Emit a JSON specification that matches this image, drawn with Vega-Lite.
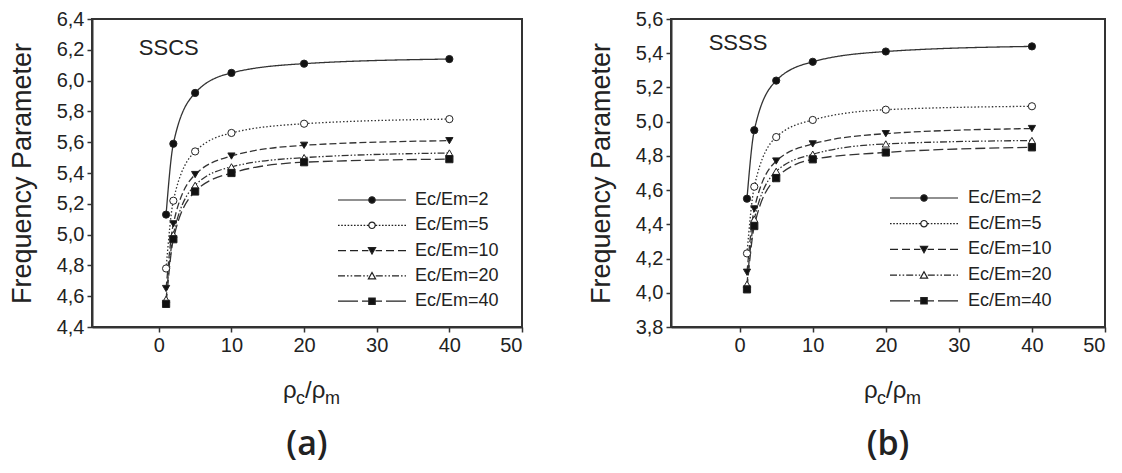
{
  "$schema": "https://vega.github.io/schema/vega-lite/v6.json",
  "background": "white",
  "padding": {"left": 7, "top": 8, "right": 0, "bottom": 12},
  "spacing": 62,
  "config": {
    "font": "Liberation Sans",
    "view": {"stroke": "#333", "strokeWidth": 2},
    "axis": {
      "grid": false,
      "domainColor": "#333",
      "domainWidth": 2,
      "tickColor": "#333",
      "tickWidth": 1.5,
      "tickSize": 5,
      "tickCount": 20,
      "labelFont": "Liberation Sans",
      "labelFontSize": 20,
      "labelColor": "#222",
      "labelPadding": 3,
      "labelOverlap": false,
      "titleFont": "Liberation Sans",
      "titleFontSize": 27,
      "titleFontWeight": "normal",
      "titleColor": "#222"
    }
  },
  "datasets": {
    "sscs": [
      {"ratio": 1, "series": "Ec/Em=2", "freq": 5.13},
      {"ratio": 2, "series": "Ec/Em=2", "freq": 5.59},
      {"ratio": 5, "series": "Ec/Em=2", "freq": 5.92},
      {"ratio": 10, "series": "Ec/Em=2", "freq": 6.05},
      {"ratio": 20, "series": "Ec/Em=2", "freq": 6.11},
      {"ratio": 40, "series": "Ec/Em=2", "freq": 6.14},
      {"ratio": 1, "series": "Ec/Em=5", "freq": 4.78},
      {"ratio": 2, "series": "Ec/Em=5", "freq": 5.22},
      {"ratio": 5, "series": "Ec/Em=5", "freq": 5.54},
      {"ratio": 10, "series": "Ec/Em=5", "freq": 5.66},
      {"ratio": 20, "series": "Ec/Em=5", "freq": 5.72},
      {"ratio": 40, "series": "Ec/Em=5", "freq": 5.75},
      {"ratio": 1, "series": "Ec/Em=10", "freq": 4.65},
      {"ratio": 2, "series": "Ec/Em=10", "freq": 5.07},
      {"ratio": 5, "series": "Ec/Em=10", "freq": 5.39},
      {"ratio": 10, "series": "Ec/Em=10", "freq": 5.51},
      {"ratio": 20, "series": "Ec/Em=10", "freq": 5.58},
      {"ratio": 40, "series": "Ec/Em=10", "freq": 5.61},
      {"ratio": 1, "series": "Ec/Em=20", "freq": 4.58},
      {"ratio": 2, "series": "Ec/Em=20", "freq": 5.0},
      {"ratio": 5, "series": "Ec/Em=20", "freq": 5.32},
      {"ratio": 10, "series": "Ec/Em=20", "freq": 5.44},
      {"ratio": 20, "series": "Ec/Em=20", "freq": 5.5},
      {"ratio": 40, "series": "Ec/Em=20", "freq": 5.53},
      {"ratio": 1, "series": "Ec/Em=40", "freq": 4.55},
      {"ratio": 2, "series": "Ec/Em=40", "freq": 4.97},
      {"ratio": 5, "series": "Ec/Em=40", "freq": 5.28},
      {"ratio": 10, "series": "Ec/Em=40", "freq": 5.4},
      {"ratio": 20, "series": "Ec/Em=40", "freq": 5.47},
      {"ratio": 40, "series": "Ec/Em=40", "freq": 5.49}
    ],
    "ssss": [
      {"ratio": 1, "series": "Ec/Em=2", "freq": 4.55},
      {"ratio": 2, "series": "Ec/Em=2", "freq": 4.95},
      {"ratio": 5, "series": "Ec/Em=2", "freq": 5.24},
      {"ratio": 10, "series": "Ec/Em=2", "freq": 5.35},
      {"ratio": 20, "series": "Ec/Em=2", "freq": 5.41},
      {"ratio": 40, "series": "Ec/Em=2", "freq": 5.44},
      {"ratio": 1, "series": "Ec/Em=5", "freq": 4.23},
      {"ratio": 2, "series": "Ec/Em=5", "freq": 4.62},
      {"ratio": 5, "series": "Ec/Em=5", "freq": 4.91},
      {"ratio": 10, "series": "Ec/Em=5", "freq": 5.01},
      {"ratio": 20, "series": "Ec/Em=5", "freq": 5.07},
      {"ratio": 40, "series": "Ec/Em=5", "freq": 5.09},
      {"ratio": 1, "series": "Ec/Em=10", "freq": 4.12},
      {"ratio": 2, "series": "Ec/Em=10", "freq": 4.49},
      {"ratio": 5, "series": "Ec/Em=10", "freq": 4.77},
      {"ratio": 10, "series": "Ec/Em=10", "freq": 4.87},
      {"ratio": 20, "series": "Ec/Em=10", "freq": 4.93},
      {"ratio": 40, "series": "Ec/Em=10", "freq": 4.96},
      {"ratio": 1, "series": "Ec/Em=20", "freq": 4.05},
      {"ratio": 2, "series": "Ec/Em=20", "freq": 4.43},
      {"ratio": 5, "series": "Ec/Em=20", "freq": 4.71},
      {"ratio": 10, "series": "Ec/Em=20", "freq": 4.81},
      {"ratio": 20, "series": "Ec/Em=20", "freq": 4.87},
      {"ratio": 40, "series": "Ec/Em=20", "freq": 4.89},
      {"ratio": 1, "series": "Ec/Em=40", "freq": 4.02},
      {"ratio": 2, "series": "Ec/Em=40", "freq": 4.39},
      {"ratio": 5, "series": "Ec/Em=40", "freq": 4.67},
      {"ratio": 10, "series": "Ec/Em=40", "freq": 4.78},
      {"ratio": 20, "series": "Ec/Em=40", "freq": 4.82},
      {"ratio": 40, "series": "Ec/Em=40", "freq": 4.85}
    ]
  },
  "resolve": {
    "scale": {"x": "independent", "y": "independent", "shape": "independent"},
    "legend": {"shape": "independent"}
  },
  "hconcat": [
    {
      "width": 430,
      "height": 308,
      "title": {"text": "(a)", "orient": "bottom", "frame": "group", "anchor": "middle", "offset": 20, "font": "Open Sans", "fontSize": 34, "fontWeight": 600, "color": "#222"},
      "data": {"name": "sscs"},
      "resolve": {"scale": {"shape": "independent"}, "legend": {"shape": "independent"}},
      "layer": [
        {
          "mark": {"type": "line", "interpolate": "monotone", "stroke": "#333", "strokeWidth": 1.3},
          "encoding": {
            "x": {"field": "ratio", "type": "quantitative", "scale": {"domain": [-9.2, 50], "nice": false, "zero": false}, "axis": {"values": [0, 10, 20, 30, 40, 50], "title": null, "labelOverlap": false}},
            "y": {"field": "freq", "type": "quantitative", "scale": {"domain": [4.4, 6.4], "nice": false, "zero": false}, "axis": {"values": [4.4, 4.6, 4.8, 5.0, 5.2, 5.4, 5.6, 5.8, 6.0, 6.2, 6.4], "tickCount": 20, "labelOverlap": false, "labelExpr": "replace(format(datum.value, '.1f'), '.', ',')", "title": "Frequency Parameter", "titlePadding": 20}},
            "detail": {"field": "series", "type": "nominal"},
            "strokeDash": {"condition": [
              {"test": "datum.series === 'Ec/Em=5'", "value": [1.5, 2]},
              {"test": "datum.series === 'Ec/Em=10'", "value": [7, 3]},
              {"test": "datum.series === 'Ec/Em=20'", "value": [7, 2, 1.5, 2, 1.5, 2]},
              {"test": "datum.series === 'Ec/Em=40'", "value": [10, 4]}
            ], "value": [1, 0]}
          }
        },
        {
          "mark": {"type": "point", "filled": true, "stroke": "#222", "strokeWidth": 1, "size": 52, "opacity": 1},
          "encoding": {
            "x": {"field": "ratio", "type": "quantitative"},
            "y": {"field": "freq", "type": "quantitative"},
            "fill": {"condition": {"test": "datum.series === 'Ec/Em=5' || datum.series === 'Ec/Em=20'", "value": "white"}, "value": "#111"},
            "shape": {
              "field": "series", "type": "nominal",
              "scale": {"domain": ["Ec/Em=2", "Ec/Em=5", "Ec/Em=10", "Ec/Em=20", "Ec/Em=40"], "range": ["circle", "circle", "triangle-down", "triangle-up", "square"]},
              "legend": null
            }
          }
        },
        {
          "transform": [{"filter": "false"}],
          "mark": {"type": "point", "filled": true, "stroke": "#222", "strokeWidth": 1.2, "opacity": 1},
          "encoding": {
            "x": {"field": "ratio", "type": "quantitative"},
            "y": {"field": "freq", "type": "quantitative"},
            "shape": {
              "field": "series", "type": "nominal",
              "scale": {
                "domain": ["Ec/Em=2", "Ec/Em=5", "Ec/Em=10", "Ec/Em=20", "Ec/Em=40"],
                "range": [
                  "M-17,0L-1.6,0M1.6,0L17,0M-1.6,0A1.6,1.6,0,1,1,1.6,0A1.6,1.6,0,1,1,-1.6,0Z",
                  "M-17,0L-16.2,0M-15.4,0L-14.6,0M-13.8,0L-13,0M-12.2,0L-11.4,0M-10.6,0L-9.8,0M-9,0L-8.2,0M-7.4,0L-6.6,0M-5.8,0L-5,0M-4.2,0L-3.4,0M-2.6,0L-1.8,0M1.8,0L2.6,0M3.4,0L4.2,0M5,0L5.8,0M6.6,0L7.4,0M8.2,0L9,0M9.8,0L10.6,0M11.4,0L12.2,0M13,0L13.8,0M14.6,0L15.4,0M16.2,0L17,0M-1.6,0A1.6,1.6,0,1,1,1.6,0A1.6,1.6,0,1,1,-1.6,0Z",
                  "M-17,0L-13,0M-11,0L-7,0M-5,0L-1.8,0M1.8,0L5,0M7,0L11,0M13,0L17,0M-1.8,-1.5L1.8,-1.5L0,1.7Z",
                  "M-17,0L-13.5,0M-12.5,0L-11.7,0M-10.7,0L-9.9,0M-8.9,0L-5.4,0M-4.4,0L-3.6,0M-2.6,0L-1.9,0M1.9,0L5.4,0M6.4,0L7.2,0M8.2,0L9,0M10,0L13.5,0M14.5,0L15.3,0M16.3,0L17,0M-1.8,1.5L1.8,1.5L0,-1.7Z",
                  "M-17,0L-7,0M-5,0L-1.8,0M1.8,0L5,0M7,0L17,0M-1.6,-1.6L1.6,-1.6L1.6,1.6L-1.6,1.6Z"
                ]
              },
              "legend": {
                "orient": "none", "legendX": 271, "legendY": 172, "title": null, "padding": 0,
                "symbolSize": 16, "labelOffset": 34, "rowPadding": 7.3,
                "labelFont": "Liberation Sans", "labelFontSize": 18, "labelColor": "#222",
                "encoding": {"symbols": {
                  "size": {"value": 16},
                  "stroke": {"value": "#222"},
                  "strokeWidth": {"value": 1.2},
                  "opacity": {"value": 1},
                  "fill": {"condition": [{"test": "datum.value === 'Ec/Em=5' || datum.value === 'Ec/Em=20'", "value": "white"}], "value": "#111"}
                }}
              }
            }
          }
        },
        {
          "data": {"values": [{"t": "SSCS"}]},
          "mark": {"type": "text", "align": "left", "baseline": "middle", "font": "Liberation Sans", "fontSize": 22, "fill": "#222"},
          "encoding": {"x": {"datum": -2.75}, "y": {"datum": 6.21}, "text": {"field": "t"}}
        },
        {
          "data": {"values": [{"t": "ρ"}]},
          "mark": {"type": "text", "align": "left", "baseline": "alphabetic", "font": "Liberation Sans", "fontSize": 24, "fill": "#222", "dx": -24, "dy": 71},
          "encoding": {"x": {"datum": 20.4}, "y": {"datum": 4.4}, "text": {"field": "t"}}
        },
        {
          "data": {"values": [{"t": "c"}]},
          "mark": {"type": "text", "align": "left", "baseline": "alphabetic", "font": "Liberation Sans", "fontSize": 18, "fill": "#222", "dx": -11, "dy": 77},
          "encoding": {"x": {"datum": 20.4}, "y": {"datum": 4.4}, "text": {"field": "t"}}
        },
        {
          "data": {"values": [{"t": "/ρ"}]},
          "mark": {"type": "text", "align": "left", "baseline": "alphabetic", "font": "Liberation Sans", "fontSize": 24, "fill": "#222", "dx": -2, "dy": 71},
          "encoding": {"x": {"datum": 20.4}, "y": {"datum": 4.4}, "text": {"field": "t"}}
        },
        {
          "data": {"values": [{"t": "m"}]},
          "mark": {"type": "text", "align": "left", "baseline": "alphabetic", "font": "Liberation Sans", "fontSize": 18, "fill": "#222", "dx": 18, "dy": 77},
          "encoding": {"x": {"datum": 20.4}, "y": {"datum": 4.4}, "text": {"field": "t"}}
        }
      ]
    },
    {
      "width": 434,
      "height": 308,
      "title": {"text": "(b)", "orient": "bottom", "frame": "group", "anchor": "middle", "offset": 20, "font": "Open Sans", "fontSize": 34, "fontWeight": 600, "color": "#222"},
      "data": {"name": "ssss"},
      "resolve": {"scale": {"shape": "independent"}, "legend": {"shape": "independent"}},
      "layer": [
        {
          "mark": {"type": "line", "interpolate": "monotone", "stroke": "#333", "strokeWidth": 1.3},
          "encoding": {
            "x": {"field": "ratio", "type": "quantitative", "scale": {"domain": [-9.4, 50], "nice": false, "zero": false}, "axis": {"values": [0, 10, 20, 30, 40, 50], "title": null, "labelOverlap": false}},
            "y": {"field": "freq", "type": "quantitative", "scale": {"domain": [3.8, 5.6], "nice": false, "zero": false}, "axis": {"values": [3.8, 4.0, 4.2, 4.4, 4.6, 4.8, 5.0, 5.2, 5.4, 5.6], "tickCount": 20, "labelOverlap": false, "labelExpr": "replace(format(datum.value, '.1f'), '.', ',')", "title": "Frequency Parameter", "titlePadding": 20}},
            "detail": {"field": "series", "type": "nominal"},
            "strokeDash": {"condition": [
              {"test": "datum.series === 'Ec/Em=5'", "value": [1.5, 2]},
              {"test": "datum.series === 'Ec/Em=10'", "value": [7, 3]},
              {"test": "datum.series === 'Ec/Em=20'", "value": [7, 2, 1.5, 2, 1.5, 2]},
              {"test": "datum.series === 'Ec/Em=40'", "value": [10, 4]}
            ], "value": [1, 0]}
          }
        },
        {
          "mark": {"type": "point", "filled": true, "stroke": "#222", "strokeWidth": 1, "size": 52, "opacity": 1},
          "encoding": {
            "x": {"field": "ratio", "type": "quantitative"},
            "y": {"field": "freq", "type": "quantitative"},
            "fill": {"condition": {"test": "datum.series === 'Ec/Em=5' || datum.series === 'Ec/Em=20'", "value": "white"}, "value": "#111"},
            "shape": {
              "field": "series", "type": "nominal",
              "scale": {"domain": ["Ec/Em=2", "Ec/Em=5", "Ec/Em=10", "Ec/Em=20", "Ec/Em=40"], "range": ["circle", "circle", "triangle-down", "triangle-up", "square"]},
              "legend": null
            }
          }
        },
        {
          "transform": [{"filter": "false"}],
          "mark": {"type": "point", "filled": true, "stroke": "#222", "strokeWidth": 1.2, "opacity": 1},
          "encoding": {
            "x": {"field": "ratio", "type": "quantitative"},
            "y": {"field": "freq", "type": "quantitative"},
            "shape": {
              "field": "series", "type": "nominal",
              "scale": {
                "domain": ["Ec/Em=2", "Ec/Em=5", "Ec/Em=10", "Ec/Em=20", "Ec/Em=40"],
                "range": [
                  "M-17,0L-1.6,0M1.6,0L17,0M-1.6,0A1.6,1.6,0,1,1,1.6,0A1.6,1.6,0,1,1,-1.6,0Z",
                  "M-17,0L-16.2,0M-15.4,0L-14.6,0M-13.8,0L-13,0M-12.2,0L-11.4,0M-10.6,0L-9.8,0M-9,0L-8.2,0M-7.4,0L-6.6,0M-5.8,0L-5,0M-4.2,0L-3.4,0M-2.6,0L-1.8,0M1.8,0L2.6,0M3.4,0L4.2,0M5,0L5.8,0M6.6,0L7.4,0M8.2,0L9,0M9.8,0L10.6,0M11.4,0L12.2,0M13,0L13.8,0M14.6,0L15.4,0M16.2,0L17,0M-1.6,0A1.6,1.6,0,1,1,1.6,0A1.6,1.6,0,1,1,-1.6,0Z",
                  "M-17,0L-13,0M-11,0L-7,0M-5,0L-1.8,0M1.8,0L5,0M7,0L11,0M13,0L17,0M-1.8,-1.5L1.8,-1.5L0,1.7Z",
                  "M-17,0L-13.5,0M-12.5,0L-11.7,0M-10.7,0L-9.9,0M-8.9,0L-5.4,0M-4.4,0L-3.6,0M-2.6,0L-1.9,0M1.9,0L5.4,0M6.4,0L7.2,0M8.2,0L9,0M10,0L13.5,0M14.5,0L15.3,0M16.3,0L17,0M-1.8,1.5L1.8,1.5L0,-1.7Z",
                  "M-17,0L-7,0M-5,0L-1.8,0M1.8,0L5,0M7,0L17,0M-1.6,-1.6L1.6,-1.6L1.6,1.6L-1.6,1.6Z"
                ]
              },
              "legend": {
                "orient": "none", "legendX": 244, "legendY": 170, "title": null, "padding": 0,
                "symbolSize": 16, "labelOffset": 35, "rowPadding": 7.7,
                "labelFont": "Liberation Sans", "labelFontSize": 18, "labelColor": "#222",
                "encoding": {"symbols": {
                  "size": {"value": 16},
                  "stroke": {"value": "#222"},
                  "strokeWidth": {"value": 1.2},
                  "opacity": {"value": 1},
                  "fill": {"condition": [{"test": "datum.value === 'Ec/Em=5' || datum.value === 'Ec/Em=20'", "value": "white"}], "value": "#111"}
                }}
              }
            }
          }
        },
        {
          "data": {"values": [{"t": "SSSS"}]},
          "mark": {"type": "text", "align": "left", "baseline": "middle", "font": "Liberation Sans", "fontSize": 22, "fill": "#222"},
          "encoding": {"x": {"datum": -4.25}, "y": {"datum": 5.46}, "text": {"field": "t"}}
        },
        {
          "data": {"values": [{"t": "ρ"}]},
          "mark": {"type": "text", "align": "left", "baseline": "alphabetic", "font": "Liberation Sans", "fontSize": 24, "fill": "#222", "dx": -24, "dy": 71},
          "encoding": {"x": {"datum": 20.3}, "y": {"datum": 3.8}, "text": {"field": "t"}}
        },
        {
          "data": {"values": [{"t": "c"}]},
          "mark": {"type": "text", "align": "left", "baseline": "alphabetic", "font": "Liberation Sans", "fontSize": 18, "fill": "#222", "dx": -11, "dy": 77},
          "encoding": {"x": {"datum": 20.3}, "y": {"datum": 3.8}, "text": {"field": "t"}}
        },
        {
          "data": {"values": [{"t": "/ρ"}]},
          "mark": {"type": "text", "align": "left", "baseline": "alphabetic", "font": "Liberation Sans", "fontSize": 24, "fill": "#222", "dx": -2, "dy": 71},
          "encoding": {"x": {"datum": 20.3}, "y": {"datum": 3.8}, "text": {"field": "t"}}
        },
        {
          "data": {"values": [{"t": "m"}]},
          "mark": {"type": "text", "align": "left", "baseline": "alphabetic", "font": "Liberation Sans", "fontSize": 18, "fill": "#222", "dx": 18, "dy": 77},
          "encoding": {"x": {"datum": 20.3}, "y": {"datum": 3.8}, "text": {"field": "t"}}
        }
      ]
    }
  ]
}
